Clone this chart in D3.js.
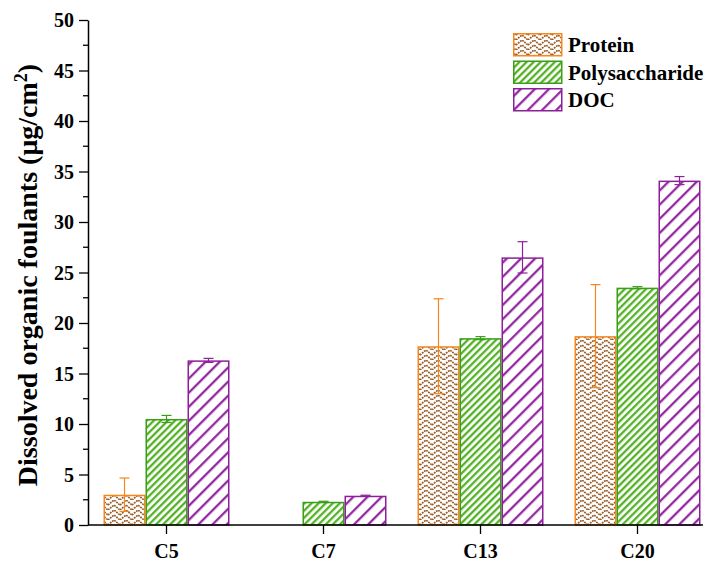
<!DOCTYPE html>
<html>
<head>
<meta charset="utf-8">
<script src="https://cdn.jsdelivr.net/npm/d3@7"></script>
<style>
  html, body { margin: 0; padding: 0; background: #fff; }
  svg { display: block; }
</style>
</head>
<body>
<svg id="chart" width="708" height="562"></svg>
<script>
// ---- data ----
const categories = ["C5", "C7", "C13", "C20"];
const seriesNames = ["Protein", "Polysaccharide", "DOC"];
const proteinValues = [3.0, 0, 17.7, 18.7];
const proteinErrors = [1.65, 0, 4.7, 5.1];
const polysaccharideValues = [10.5, 2.3, 18.5, 23.5];
const polysaccharideErrors = [0.35, 0.05, 0.15, 0.1];
const docValues = [16.3, 2.9, 26.5, 34.1];
const docErrors = [0.2, 0.05, 1.55, 0.4];
const yTicks = [0, 5, 10, 15, 20, 25, 30, 35, 40, 45, 50];

(function () {
const FONT = "'Liberation Serif'";
const seriesValues = [proteinValues, polysaccharideValues, docValues];
const seriesErrors = [proteinErrors, polysaccharideErrors, docErrors];
const strokeColors = ["#f7861c", "#3a9e17", "#8e1f9c"];

const svg = d3.select("#chart");
const defs = svg.append("defs");

// Protein: herringbone dotted pattern
const pP = defs.append("pattern").attr("id", "pat0").attr("patternUnits", "userSpaceOnUse")
  .attr("width", 12).attr("height", 10);
pP.append("rect").attr("width", 12).attr("height", 10).attr("fill", "#fff");
[0, 5].forEach(dy => {
  pP.append("polyline")
    .attr("points", `0,${dy + 5} 6,${dy} 12,${dy + 5}`)
    .attr("fill", "none").attr("stroke", "#985a24").attr("stroke-width", 1.7)
    .attr("stroke-dasharray", "1.8,0.9");
});
// Polysaccharide: dense diagonal stripes
const pG = defs.append("pattern").attr("id", "pat1").attr("patternUnits", "userSpaceOnUse")
  .attr("width", 5).attr("height", 10).attr("patternTransform", "rotate(45)");
pG.append("rect").attr("width", 5).attr("height", 10).attr("fill", "#fff");
pG.append("line").attr("x1", 1.2).attr("x2", 1.2).attr("y1", 0).attr("y2", 10)
  .attr("stroke", "#4aae1c").attr("stroke-width", 2.2);
// DOC: wide diagonal stripes
const pD = defs.append("pattern").attr("id", "pat2").attr("patternUnits", "userSpaceOnUse")
  .attr("width", 10).attr("height", 10).attr("patternTransform", "rotate(45)");
pD.append("rect").attr("width", 10).attr("height", 10).attr("fill", "#fff");
pD.append("line").attr("x1", 1.2).attr("x2", 1.2).attr("y1", 0).attr("y2", 10)
  .attr("stroke", "#8e1f9c").attr("stroke-width", 2.2);

// ---- scales ----
const mLeft = 88, mTop = 20, mBottom = 525;
const step = 157;
const x0 = d3.scaleBand().domain(categories).range([mLeft, mLeft + step * categories.length]).paddingInner(0).paddingOuter(0);
const groupW = 126;
const x1 = d3.scaleBand().domain(seriesNames).range([0, groupW]).padding(0);
const y = d3.scaleLinear().domain([0, 50]).range([mBottom, mTop]);

// ---- bars ----
seriesNames.forEach((s, si) => {
  const g = svg.append("g");
  categories.forEach((c, ci) => {
    const v = seriesValues[si][ci];
    if (v <= 0) return;
    const bx = x0(c) + x0.bandwidth() / 2 - groupW / 2 + x1(s);
    g.append("rect")
      .attr("x", bx + 0.75).attr("y", y(v) + 0.75)
      .attr("width", x1.bandwidth() - 1.5).attr("height", y(0) - y(v) - 0.75)
      .attr("fill", `url(#pat${si})`)
      .attr("stroke", strokeColors[si]).attr("stroke-width", 1.5);
  });
});
// ---- error bars ----
seriesNames.forEach((s, si) => {
  categories.forEach((c, ci) => {
    const v = seriesValues[si][ci], e = seriesErrors[si][ci];
    if (v <= 0) return;
    const cx = x0(c) + x0.bandwidth() / 2 - groupW / 2 + x1(s) + x1.bandwidth() / 2;
    const g = svg.append("g").attr("stroke", strokeColors[si]).attr("stroke-width", 1.2).attr("fill", "none");
    g.append("line").attr("x1", cx).attr("x2", cx).attr("y1", y(v + e)).attr("y2", y(v - e));
    [v + e, v - e].forEach(t => {
      g.append("line").attr("x1", cx - 5).attr("x2", cx + 5).attr("y1", y(t)).attr("y2", y(t));
    });
  });
});

// ---- axes ----
const yAxis = d3.axisLeft(y).tickValues(yTicks).tickSize(9).tickSizeOuter(0).tickPadding(5);
const gy = svg.append("g").attr("transform", `translate(${mLeft},0)`).call(yAxis);
gy.selectAll("text").attr("fill", "#000").attr("dy", "0.34em")
  .style("font-family", FONT).style("font-weight", "bold").style("font-size", "20px");
gy.selectAll("line").attr("stroke-width", 1.3);
gy.select(".domain").attr("stroke-width", 1.5);
// minor ticks
const minor = d3.range(2.5, 50, 5);
svg.append("g").selectAll("line").data(minor).join("line")
  .attr("x1", mLeft - 5).attr("x2", mLeft).attr("y1", d => y(d)).attr("y2", d => y(d))
  .attr("stroke", "#000").attr("stroke-width", 1.3);

const xAxis = d3.axisBottom(x0).tickSize(9).tickSizeOuter(0).tickPadding(10);
const gx = svg.append("g").attr("transform", `translate(0,${mBottom})`).call(xAxis);
gx.select(".domain").remove();
gx.selectAll("text").attr("fill", "#000")
  .style("font-family", FONT).style("font-weight", "bold").style("font-size", "20px");
gx.selectAll("line").attr("stroke-width", 1.3);
svg.append("line").attr("x1", mLeft).attr("x2", 703).attr("y1", mBottom).attr("y2", mBottom)
  .attr("stroke", "#000").attr("stroke-width", 1.5);

// ---- y title ----
const yt = svg.append("text")
  .attr("transform", `translate(37,275) rotate(-90)`)
  .attr("text-anchor", "middle")
  .style("font-family", FONT).style("font-weight", "bold").style("font-size", "28px");
yt.append("tspan").text("Dissolved organic foulants (μg/cm");
yt.append("tspan").text("2").attr("baseline-shift", "super").style("font-size", "18px");
yt.append("tspan").text(")");

// ---- legend ----
const lg = svg.append("g");
seriesNames.forEach((s, si) => {
  const ly = 33 + si * 27.5;
  lg.append("rect").attr("x", 513.75).attr("y", ly + 0.75).attr("width", 48).attr("height", 22)
    .attr("fill", `url(#pat${si})`).attr("stroke", strokeColors[si]).attr("stroke-width", 1.5);
  lg.append("text").attr("x", 568).attr("y", ly + 19).text(s)
    .style("font-family", FONT).style("font-weight", "bold").style("font-size", "21px");
});
})();
</script>
</body>
</html>
